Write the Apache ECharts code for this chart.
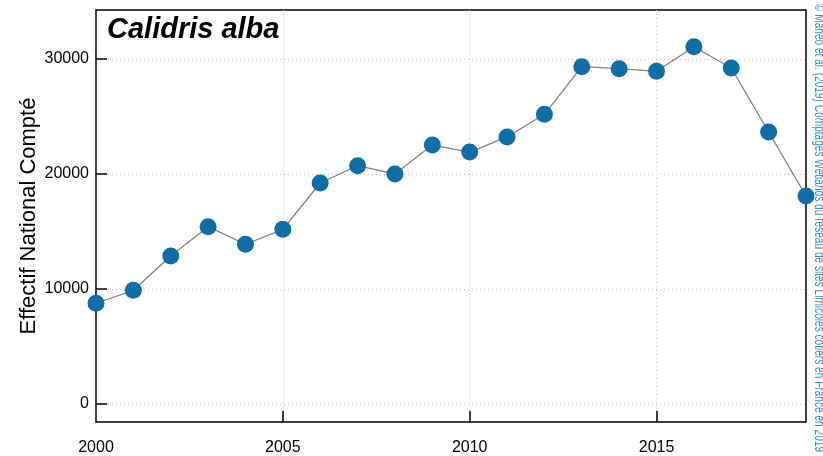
<!DOCTYPE html>
<html>
<head>
<meta charset="utf-8">
<script src="https://cdn.jsdelivr.net/npm/echarts@6/dist/echarts.min.js"></script>
<style>
  html, body { margin: 0; padding: 0; background: #fff; }
  #chart { width: 823px; height: 456px; }
</style>
</head>
<body>
<div id="chart"></div>
<script>
// National counts of Sanderling, one value per winter census year
const years = [2000, 2001, 2002, 2003, 2004, 2005, 2006, 2007, 2008, 2009,
               2010, 2011, 2012, 2013, 2014, 2015, 2016, 2017, 2018, 2019];
const counts = [8760, 9890, 12870, 15420, 13890, 15190, 19220, 20720, 20000, 22520,
                21910, 23220, 25190, 29330, 29160, 28930, 31070, 29220, 23650, 18090];

const yTickValues = [0, 10000, 20000, 30000];
const xTickValues = [2005, 2010, 2015];
const xLabelValues = [2000, 2005, 2010, 2015];

const speciesName = 'Calidris alba';
const yAxisTitle = 'Effectif National Compté';
const credit = '© Mahéo et al. (2019) Comptages Wetlands du réseau de sites Limicoles côtiers en France en 2019';

const FONT = 'Liberation Sans, Arial, Helvetica, sans-serif';
const GRID_LINE = { show: true, lineStyle: { color: '#bdbdbd', type: [1, 3], width: 1 } };
const plain = v => String(v);

// Fit the credit line along the right edge
const creditSize = 15;
const creditLength = 448;
const ctx = document.createElement('canvas').getContext('2d');
ctx.font = creditSize + 'px ' + FONT;
const creditScale = creditLength / ctx.measureText(credit).width;

const chart = echarts.init(document.getElementById('chart'), null, { renderer: 'canvas' });

chart.setOption({
  animation: false,
  backgroundColor: '#ffffff',
  textStyle: { fontFamily: FONT },
  title: {
    text: speciesName,
    left: 107,
    top: 15,
    padding: 0,
    textStyle: { fontSize: 29, fontWeight: 'bold', fontStyle: 'italic', color: '#000', fontFamily: FONT }
  },
  grid: [
    // outer box: frame, vertical grid lines, year axis
    { left: 96, right: 17, top: 10, bottom: 33, show: true, borderColor: '#000', borderWidth: 1.5, backgroundColor: 'transparent', containLabel: false },
    // count scale
    { left: 96, right: 17, top: 59, bottom: 52, containLabel: false }
  ],
  xAxis: [
    {
      gridIndex: 0, type: 'value', min: 2000, max: 2019, interval: 2.5,
      axisLine: { show: false },
      axisTick: { show: true, inside: true, length: 11, customValues: xTickValues, lineStyle: { color: '#000', width: 1.5 } },
      axisLabel: { show: true, customValues: xLabelValues, formatter: plain, margin: 18, fontSize: 16, color: '#000', fontFamily: FONT },
      splitLine: GRID_LINE
    },
    {
      gridIndex: 1, type: 'value', min: 2000, max: 2019, show: false
    }
  ],
  yAxis: [
    {
      gridIndex: 0, type: 'value', min: 0, max: 1,
      axisLine: { show: false }, axisTick: { show: false }, axisLabel: { show: false }, splitLine: { show: false },
      name: yAxisTitle, nameLocation: 'middle', nameGap: 56,
      nameTextStyle: { fontSize: 22, color: '#000', fontFamily: FONT }
    },
    {
      gridIndex: 1, type: 'value', min: 0, max: 30000, interval: 5000,
      axisLine: { show: false },
      axisTick: { show: true, inside: true, length: 11, customValues: yTickValues, lineStyle: { color: '#000', width: 1.5 } },
      axisLabel: { show: true, customValues: yTickValues, formatter: plain, margin: 7, fontSize: 16, color: '#000', fontFamily: FONT },
      splitLine: GRID_LINE
    }
  ],
  graphic: [{
    type: 'text',
    x: 819, y: 228,
    rotation: -Math.PI / 2,
    scaleX: creditScale,
    style: {
      text: credit,
      fontSize: creditSize,
      fontFamily: FONT,
      fill: '#3b8dc4',
      align: 'center',
      verticalAlign: 'middle'
    }
  }],
  series: [{
    type: 'line',
    xAxisIndex: 1,
    yAxisIndex: 1,
    clip: false,
    data: years.map((y, i) => [y, counts[i]]),
    lineStyle: { color: '#808080', width: 1.3 },
    symbol: 'circle',
    symbolSize: 17,
    itemStyle: { color: '#0e6ea8', borderWidth: 0 },
    z: 5
  }]
});
</script>
</body>
</html>
